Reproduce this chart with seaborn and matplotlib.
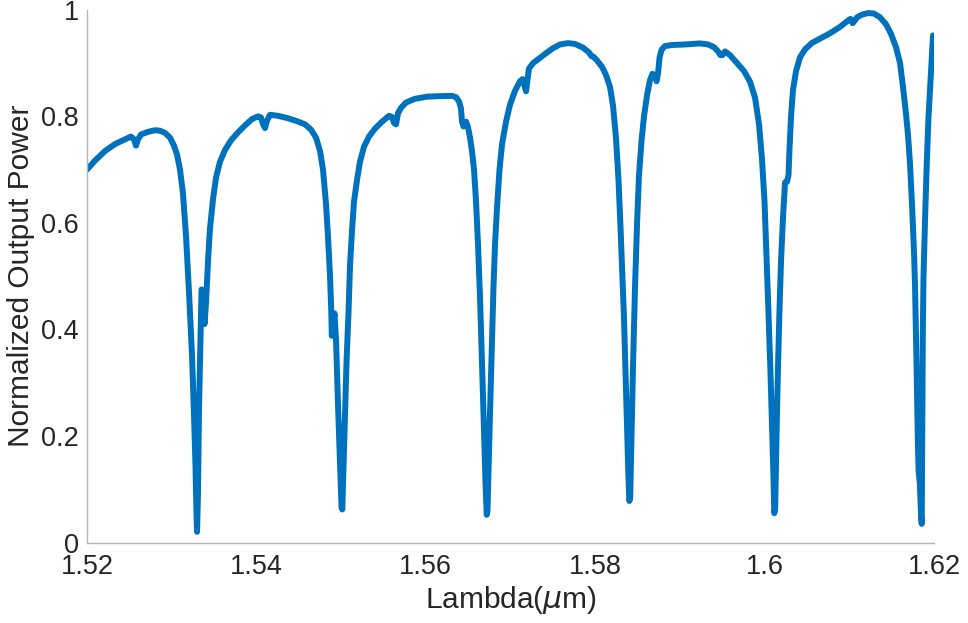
import matplotlib
matplotlib.use("Agg")
import matplotlib.pyplot as plt
import seaborn as sns
import pandas as pd

# Wavelength (um) and normalized output power
wavelength = [
    1.52000, 1.52094, 1.52213, 1.52331, 1.52449, 1.52519, 1.52555, 1.52578, 1.52602, 1.52638,
    1.52720, 1.52803, 1.52862, 1.52921, 1.52980, 1.53027, 1.53063, 1.53098, 1.53133, 1.53169,
    1.53204, 1.53240, 1.53263, 1.53281, 1.53293, 1.53299, 1.53310, 1.53322, 1.53340, 1.53352,
    1.53370, 1.53387, 1.53405, 1.53429, 1.53452, 1.53488, 1.53523, 1.53570, 1.53629, 1.53700,
    1.53783, 1.53865, 1.53948, 1.54019, 1.54054, 1.54078, 1.54101, 1.54125, 1.54161, 1.54255,
    1.54361, 1.54479, 1.54574, 1.54645, 1.54704, 1.54751, 1.54786, 1.54822, 1.54845, 1.54869,
    1.54884, 1.54890, 1.54922, 1.54940, 1.54963, 1.54987, 1.55005, 1.55014, 1.55028, 1.55046,
    1.55064, 1.55087, 1.55105, 1.55129, 1.55152, 1.55188, 1.55223, 1.55270, 1.55329, 1.55400,
    1.55483, 1.55565, 1.55601, 1.55624, 1.55648, 1.55672, 1.55707, 1.55766, 1.55872, 1.56014,
    1.56168, 1.56309, 1.56356, 1.56392, 1.56415, 1.56427, 1.56445, 1.56475, 1.56498, 1.56522,
    1.56545, 1.56569, 1.56593, 1.56616, 1.56640, 1.56663, 1.56687, 1.56705, 1.56719, 1.56728,
    1.56746, 1.56764, 1.56782, 1.56799, 1.56817, 1.56841, 1.56870, 1.56900, 1.56947, 1.56994,
    1.57053, 1.57112, 1.57142, 1.57165, 1.57183, 1.57201, 1.57218, 1.57266, 1.57348, 1.57431,
    1.57502, 1.57584, 1.57679, 1.57761, 1.57856, 1.57927, 1.57956, 1.57980, 1.58021, 1.58080,
    1.58127, 1.58175, 1.58210, 1.58245, 1.58275, 1.58299, 1.58316, 1.58340, 1.58358, 1.58375,
    1.58391, 1.58403, 1.58413, 1.58429, 1.58446, 1.58470, 1.58494, 1.58517, 1.58547, 1.58576,
    1.58612, 1.58647, 1.58676, 1.58700, 1.58724, 1.58741, 1.58759, 1.58783, 1.58824, 1.58907,
    1.59060, 1.59237, 1.59332, 1.59402, 1.59450, 1.59479, 1.59503, 1.59532, 1.59591, 1.59674,
    1.59757, 1.59828, 1.59887, 1.59934, 1.59969, 1.59999, 1.60022, 1.60046, 1.60069, 1.60087,
    1.60105, 1.60114, 1.60125, 1.60140, 1.60158, 1.60176, 1.60194, 1.60217, 1.60241, 1.60264,
    1.60282, 1.60294, 1.60312, 1.60335, 1.60371, 1.60418, 1.60477, 1.60560, 1.60654, 1.60772,
    1.60890, 1.60985, 1.61014, 1.61038, 1.61061, 1.61091, 1.61150, 1.61221, 1.61292, 1.61362,
    1.61433, 1.61492, 1.61551, 1.61599, 1.61634, 1.61669, 1.61693, 1.61717, 1.61740, 1.61764,
    1.61776, 1.61794, 1.61809, 1.61818, 1.61833, 1.61847, 1.61855, 1.61862, 1.61868, 1.61876,
    1.61894, 1.61912, 1.61933, 1.61959, 1.61988,
]
power = [
    0.700, 0.717, 0.735, 0.748, 0.757, 0.762, 0.757, 0.745, 0.757, 0.766,
    0.771, 0.774, 0.773, 0.769, 0.760, 0.745, 0.728, 0.700, 0.655, 0.575,
    0.470, 0.350, 0.240, 0.140, 0.050, 0.020, 0.090, 0.250, 0.380, 0.475,
    0.470, 0.410, 0.450, 0.530, 0.590, 0.645, 0.685, 0.715, 0.737, 0.755,
    0.770, 0.783, 0.795, 0.800, 0.798, 0.785, 0.778, 0.792, 0.803, 0.801,
    0.797, 0.791, 0.785, 0.775, 0.760, 0.735, 0.700, 0.635, 0.575, 0.500,
    0.433, 0.388, 0.430, 0.380, 0.260, 0.150, 0.065, 0.062, 0.140, 0.243,
    0.340, 0.431, 0.520, 0.587, 0.640, 0.681, 0.715, 0.743, 0.762, 0.777,
    0.790, 0.801, 0.799, 0.788, 0.785, 0.806, 0.816, 0.826, 0.833, 0.837,
    0.838, 0.8385, 0.836, 0.828, 0.815, 0.790, 0.781, 0.790, 0.780, 0.760,
    0.735, 0.700, 0.640, 0.560, 0.460, 0.340, 0.210, 0.110, 0.052, 0.060,
    0.170, 0.280, 0.380, 0.480, 0.560, 0.630, 0.700, 0.748, 0.790, 0.822,
    0.848, 0.866, 0.870, 0.858, 0.847, 0.870, 0.890, 0.900, 0.910, 0.920,
    0.928, 0.935, 0.9375, 0.936, 0.929, 0.920, 0.913, 0.912, 0.905, 0.893,
    0.878, 0.855, 0.820, 0.760, 0.680, 0.590, 0.520, 0.420, 0.320, 0.220,
    0.130, 0.078, 0.085, 0.200, 0.330, 0.480, 0.600, 0.690, 0.755, 0.800,
    0.840, 0.868, 0.880, 0.877, 0.866, 0.880, 0.910, 0.925, 0.932, 0.934,
    0.935, 0.937, 0.935, 0.930, 0.922, 0.915, 0.915, 0.922, 0.915, 0.900,
    0.885, 0.865, 0.835, 0.785, 0.720, 0.640, 0.540, 0.430, 0.320, 0.220,
    0.120, 0.055, 0.065, 0.200, 0.330, 0.440, 0.530, 0.610, 0.676, 0.677,
    0.690, 0.740, 0.800, 0.850, 0.885, 0.911, 0.926, 0.938, 0.946, 0.956,
    0.968, 0.980, 0.983, 0.975, 0.979, 0.986, 0.991, 0.994, 0.993, 0.986,
    0.973, 0.955, 0.930, 0.900, 0.855, 0.805, 0.765, 0.710, 0.635, 0.545,
    0.480, 0.330, 0.190, 0.135, 0.110, 0.050, 0.035, 0.250, 0.400, 0.500,
    0.606, 0.700, 0.793, 0.870, 0.952,
]

x_ticks = [1.52, 1.54, 1.56, 1.58, 1.60, 1.62]
x_tick_labels = ["1.52", "1.54", "1.56", "1.58", "1.6", "1.62"]
y_ticks = [0, 0.2, 0.4, 0.6, 0.8, 1.0]
y_tick_labels = ["0", "0.2", "0.4", "0.6", "0.8", "1"]

df = pd.DataFrame({"wavelength": wavelength, "power": power})

sns.set_theme(style="white")
plt.rcParams["font.family"] = ["Liberation Sans", "DejaVu Sans"]
plt.rcParams["mathtext.fontset"] = "dejavusans"

fig = plt.figure(figsize=(9.68, 6.23), dpi=100)
ax = fig.add_axes([0.0899, 0.1292, 0.8750, 0.8550])

sns.lineplot(data=df, x="wavelength", y="power", ax=ax, sort=False,
             estimator=None, color="#0072BD", linewidth=4.3,
             solid_joinstyle="round", solid_capstyle="round")

ax.set_xlim(1.52, 1.62)
ax.set_ylim(0, 1)
ax.set_xticks(x_ticks)
ax.set_xticklabels(x_tick_labels)
ax.set_yticks(y_ticks)
ax.set_yticklabels(y_tick_labels)

text_color = "#262626"
axis_color = "#b5b5b5"
ax.tick_params(axis="both", direction="in", length=6, width=0.9,
               color=axis_color, labelsize=19.5, labelcolor=text_color)
ax.tick_params(axis="x", pad=8)
ax.tick_params(axis="y", pad=6)
for side in ["top", "right"]:
    ax.spines[side].set_visible(False)
for side in ["left", "bottom"]:
    ax.spines[side].set_color(axis_color)
    ax.spines[side].set_linewidth(1.0)

ax.set_xlabel(r"Lambda($\mu$m)", fontsize=21.5, color=text_color, labelpad=3)
ax.set_ylabel("Normalized Output Power", fontsize=21.5, color=text_color, labelpad=4)
ax.grid(False)

fig.savefig("out.png", dpi=100)
